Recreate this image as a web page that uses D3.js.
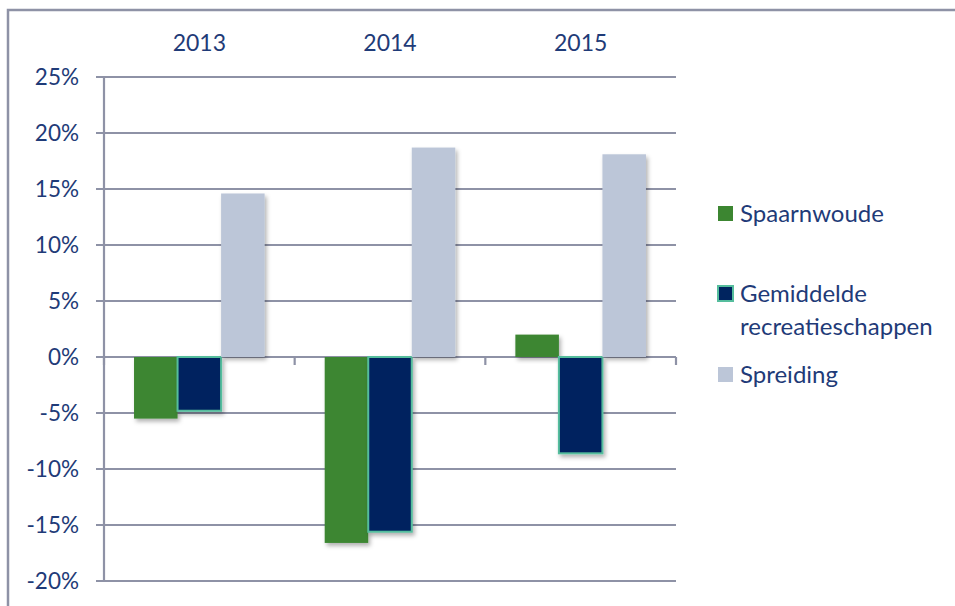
<!DOCTYPE html>
<html><head><meta charset="utf-8">
<script src="https://cdn.jsdelivr.net/npm/d3@7"></script>
<style>body{margin:0;background:#fff}svg{display:block}</style>
</head><body>
<svg id="c" width="955" height="606"></svg>
<script>
const years = ["2013", "2014", "2015"];
const seriesNames = ["Spaarnwoude", "Gemiddelde recreatieschappen", "Spreiding"];
const spaarnwoude = [-5.5, -16.6, 2.0];
const gemiddelde = [-4.8, -15.6, -8.6];
const spreiding = [14.6, 18.7, 18.1];
const yTicks = [25, 20, 15, 10, 5, 0, -5, -10, -15, -20];

const series = [spaarnwoude, gemiddelde, spreiding];
const fills = ["#3c8631", "#00245f", "#bcc6d8"];
const strokes = [null, "#55bd9d", null];
const textColor = "#1f3b78";
const gridColor = "#8e92a6";
const font = "Lato, 'Open Sans', sans-serif";

const svg = d3.select("#c");
const defs = svg.append("defs");
const f = defs.append("filter").attr("id","sh").attr("x","-20%").attr("y","-20%").attr("width","150%").attr("height","150%");
f.append("feDropShadow").attr("dx",2).attr("dy",3).attr("stdDeviation",2.2).attr("flood-color","#000").attr("flood-opacity",0.3);

// outer frame
svg.append("rect").attr("x",8).attr("y",10).attr("width",960).attr("height",620)
  .attr("fill","none").attr("stroke",gridColor).attr("stroke-width",2.5);

const x0 = d3.scaleBand().domain(years).range([104, 676]).paddingInner(0).paddingOuter(0);
const x1 = d3.scaleBand().domain(d3.range(3)).range([0, x0.bandwidth()]).paddingOuter(0.69).paddingInner(0);
const y = d3.scaleLinear().domain([-20, 25]).range([581, 77]);

// gridlines
svg.append("g").selectAll("line").data(yTicks).join("line")
  .attr("x1",96).attr("x2",676).attr("y1",d=>y(d)).attr("y2",d=>y(d))
  .attr("stroke",gridColor).attr("stroke-width",2.2);

// y axis line
svg.append("line").attr("x1",104).attr("x2",104).attr("y1",y(25)).attr("y2",y(-20))
  .attr("stroke",gridColor).attr("stroke-width",2.2);

// y labels
svg.append("g").selectAll("text").data(yTicks).join("text")
  .attr("x",79).attr("y",d=>y(d)).attr("dy","0.36em").attr("text-anchor","end")
  .attr("font-family",font).attr("font-size",22.5).attr("fill",textColor)
  .text(d=>d+"%");

// category ticks on zero line
const bounds = [104].concat(years.map(c=>x0(c)+x0.bandwidth()));
svg.append("g").selectAll("line").data(bounds).join("line")
  .attr("x1",d=>d).attr("x2",d=>d).attr("y1",y(0)).attr("y2",y(0)+8)
  .attr("stroke",gridColor).attr("stroke-width",2.2);

// year labels at top
svg.append("g").selectAll("text").data(years).join("text")
  .attr("x",d=>x0(d)+x0.bandwidth()/2).attr("y",51).attr("text-anchor","middle")
  .attr("font-family",font).attr("font-size",23).attr("fill",textColor).text(d=>d);

// bars
const g = svg.append("g");
years.forEach((yr,i)=>{
  series.forEach((s,j)=>{
    const v = s[i];
    const r = g.append("rect")
      .attr("x",x0(yr)+x1(j)).attr("width",x1.bandwidth())
      .attr("y",y(Math.max(0,v))).attr("height",Math.abs(y(v)-y(0)))
      .attr("fill",fills[j]).attr("filter","url(#sh)");
    if (strokes[j]) {
      r.attr("stroke",strokes[j]).attr("stroke-width",2);
    }
  });
});

// legend
const leg = svg.append("g");
const legItems = [
  {lines:["Spaarnwoude"], y:222},
  {lines:["Gemiddelde","recreatieschappen"], y:302},
  {lines:["Spreiding"], y:383}
];
legItems.forEach((it,j)=>{
  leg.append("rect").attr("x",718).attr("y",it.y-16).attr("width",15).attr("height",15)
    .attr("fill",fills[j]).attr("stroke",strokes[j]||"none").attr("stroke-width",strokes[j]?2:0);
  it.lines.forEach((ln,k)=>{
    leg.append("text").attr("x",740).attr("y",it.y+k*33)
      .attr("font-family",font).attr("font-size",24).attr("fill",textColor).text(ln);
  });
});
</script>
</body></html>
